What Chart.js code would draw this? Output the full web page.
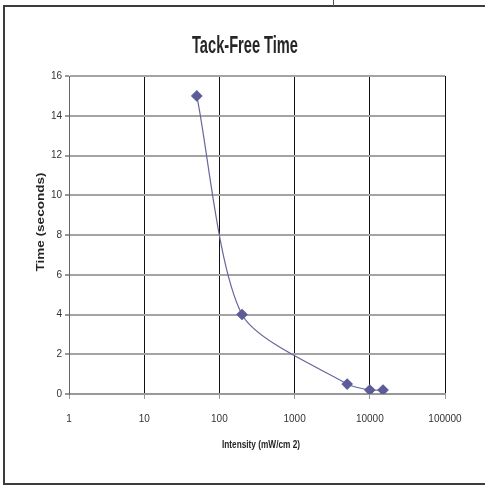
<!DOCTYPE html>
<html>
<head>
<meta charset="utf-8">
<script src="https://cdn.jsdelivr.net/npm/chart.js@4/dist/chart.umd.min.js"></script>
<style>
  body { margin: 0; background: #fff; }
  #wrap { position: relative; width: 485px; height: 486px; }
  #frame { position: absolute; left: 3px; top: 5px; width: 490px; height: 476px;
           border-left: 2px solid #3c3c3c; border-top: 2px solid #3c3c3c; border-bottom: 2px solid #3c3c3c; }
  #mark { position: absolute; left: 333px; top: 0; width: 1px; height: 6px; background: #555; }
</style>
</head>
<body>
<div id="wrap">
  <div id="frame"></div>
  <div id="mark"></div>
  <canvas id="tackFree" width="485" height="486"></canvas>
</div>
<script>
// values
const intensity = [50, 200, 5000, 10000, 15000];
const tackTime = [15, 4, 0.5, 0.2, 0.2];
const xTickValues = [1, 10, 100, 1000, 10000, 100000];

const titleText = 'Tack-Free Time';
const xTitleText = 'Intensity (mW/cm 2)';
const yTitleText = 'Time (seconds)';

// the original text is squeezed/stretched, so fit each title to its measured width
function fitText(c, text, font, x, y, width, angle, baseline) {
    c.save();
    c.font = font;
    const w = c.measureText(text).width;
    c.translate(x, y);
    c.rotate(angle);
    c.scale(width / w, 1);
    c.fillStyle = '#262626';
    c.textAlign = 'center';
    c.textBaseline = baseline;
    c.fillText(text, 0, 0);
    c.restore();
}

const titles = {
    id: 'titles',
    afterDraw(chart) {
        const c = chart.ctx;
        fitText(c, titleText, 'bold 24px "Liberation Sans", Arial, sans-serif', 245, 53, 106, 0, 'alphabetic');
        fitText(c, xTitleText, 'bold 10px "Liberation Sans", Arial, sans-serif', 261, 448, 78, 0, 'alphabetic');
        fitText(c, yTitleText, 'bold 10px "Liberation Sans", Arial, sans-serif', 41, 222, 99, -Math.PI / 2, 'middle');
    }
};

const tickFont = { family: '"Liberation Sans", Arial, sans-serif', size: 10 };

new Chart(document.getElementById('tackFree'), {
    type: 'scatter',
    data: {
        datasets: [{
            data: intensity.map((x, i) => ({ x: x, y: tackTime[i] })),
            showLine: true,
            tension: 0.25,
            borderColor: '#66669f',
            borderWidth: 1.2,
            pointStyle: 'rectRot',
            pointRadius: 5,
            pointHoverRadius: 5,
            pointBackgroundColor: '#5c5c98',
            pointBorderColor: '#5c5c98'
        }]
    },
    options: {
        responsive: false,
        animation: false,
        layout: { padding: { left: 45, right: 40, top: 76, bottom: 32 } },
        plugins: {
            legend: { display: false },
            tooltip: { enabled: false },
            title: { display: false }
        },
        scales: {
            x: {
                type: 'logarithmic',
                min: 1,
                max: 100000,
                afterBuildTicks: s => { s.ticks = xTickValues.map(v => ({ value: v })); },
                afterFit: s => { s.height = 60; },
                ticks: {
                    color: '#333',
                    font: tickFont,
                    padding: 14,
                    maxRotation: 0,
                    autoSkip: false,
                    callback: v => String(v)
                },
                grid: { color: '#111', lineWidth: 1, tickLength: 5, tickColor: '#999' },
                border: { color: '#999', width: 2 }
            },
            y: {
                min: 0,
                max: 16,
                afterFit: s => { s.width = 24; },
                ticks: {
                    stepSize: 2,
                    color: '#333',
                    font: tickFont,
                    padding: 3
                },
                grid: { color: '#a4a4a4', lineWidth: 2, tickLength: 4, tickColor: '#999' },
                border: { color: '#666', width: 1 }
            }
        }
    },
    plugins: [titles]
});
</script>
</body>
</html>
